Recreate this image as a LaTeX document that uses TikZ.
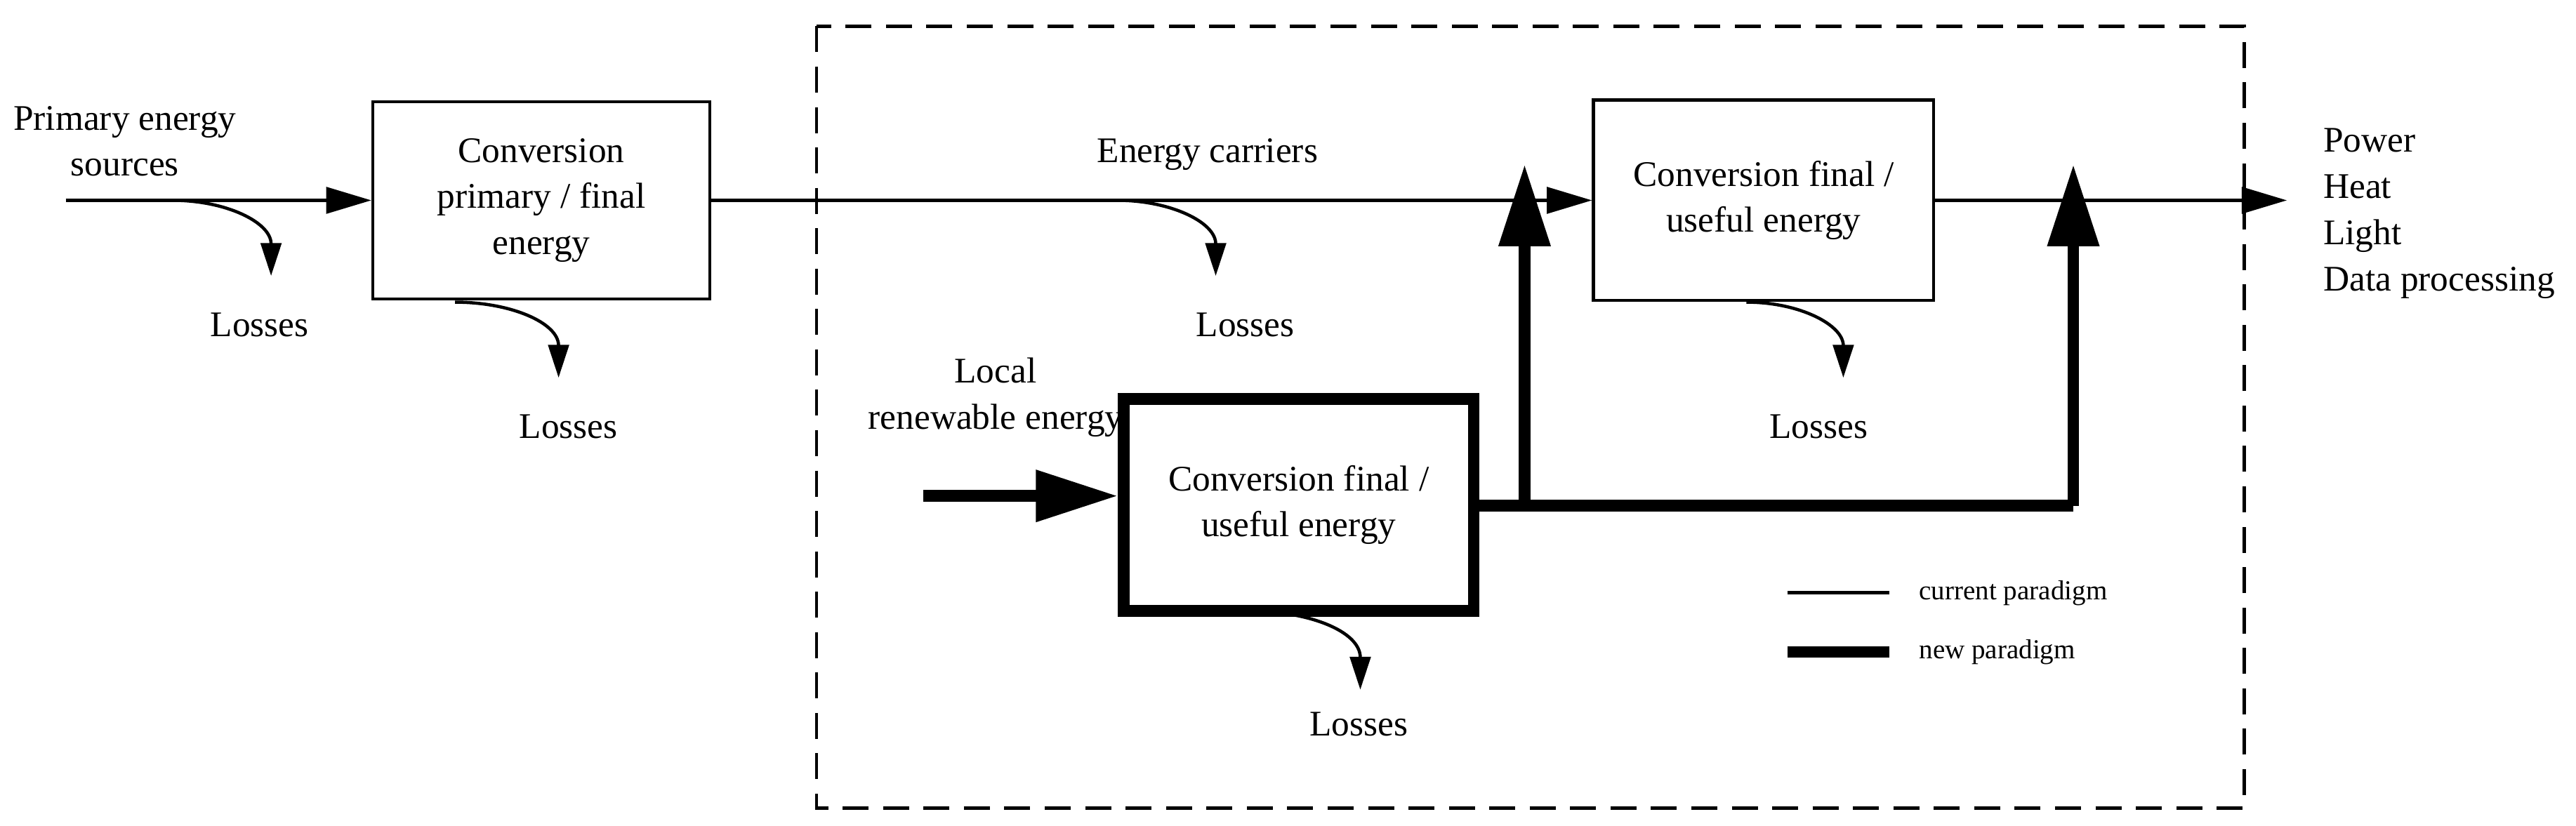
\documentclass[tikz,border=0pt]{standalone}
\usepackage{fontspec}
\setmainfont{Liberation Serif}
\usetikzlibrary{arrows.meta}
\begin{document}
\begin{tikzpicture}[x=0.02cm,y=-0.02cm,
  thin line/.style={line width=1.1pt},
  thick line/.style={line width=4pt},
  flow/.style={thin line,-{Triangle[length=0.55cm,width=0.32cm]}},
  bigflow/.style={thick line,-{Triangle[length=1cm,width=0.6cm]}},
  loss/.style={thin line,-{Triangle[length=0.4cm,width=0.25cm]}},
  box/.style={draw,thin line,align=center,font=\fontsize{12.5}{16}\selectfont},
  txt/.style={font=\fontsize{12.5}{16}\selectfont},
  leg/.style={font=\fontsize{9.5}{11}\selectfont,anchor=west}]
\useasboundingbox (0,0) rectangle (1568,503);
\draw[thin line,dash pattern=on 9pt off 5pt] (497,16) rectangle (1366,492);
% boxes
\node[box,minimum width=205*0.02cm,minimum height=120*0.02cm] (b1) at (329.5,122) {Conversion\\primary / final\\energy};
\node[box,minimum width=207*0.02cm,minimum height=122*0.02cm] (b2) at (1073.5,122) {Conversion final /\\useful energy};
\node[box,thick line,minimum width=213*0.02cm,minimum height=129*0.02cm] (b3) at (790.5,307.5) {Conversion final /\\useful energy};
% coordinates
\coordinate (in) at (40,122);
\coordinate (out) at (1392,122);
\coordinate (loc) at (562,302);
\coordinate (j1) at (928,308);
\coordinate (j2) at (1262,308);
\coordinate (t1) at (928,100);
\coordinate (t2) at (1262,100);
% thin flows
\draw[flow] (in) -- (b1.west);
\draw[flow] (b1.east) -- (b2.west);
\draw[flow] (b2.east) -- (out);
% thick flows
\draw[bigflow] (loc) -- (b3.west |- loc);
\draw[thick line] (b3.east |- j1) -- (j2);
\draw[bigflow] (j1) -- (t1);
\draw[bigflow] (j2) -- (t2);
% losses
\coordinate (l1) at (105,122); \coordinate (l1e) at (165,168);
\coordinate (l2) at (277,184); \coordinate (l2e) at (340,230);
\coordinate (l3) at (680,122); \coordinate (l3e) at (740,168);
\coordinate (l4) at (1063,184); \coordinate (l4e) at (1122,230);
\coordinate (l5) at (760,372); \coordinate (l5e) at (828,420);
\foreach \a/\b in {l1/l1e,l2/l2e,l3/l3e,l4/l4e,l5/l5e}
  \draw[loss] (\a) to[out=0,in=90,looseness=1.1] (\b);
\node[txt] (t_l1) at (158,198) {Losses};
\node[txt] (t_l2) at (346,260) {Losses};
\node[txt] (t_l3) at (758,198) {Losses};
\node[txt] (t_l4) at (1107,260) {Losses};
\node[txt] (t_l5) at (827,441) {Losses};
% labels
\node[txt,align=center] (pes) at (76,86) {Primary energy\\sources};
\node[txt] (ec) at (735,94) {Energy carriers};
\node[txt,align=center,inner sep=0pt] (lre) at (606,242) {Local\\renewable energy};
\node[txt,align=left,anchor=west] (outs) at (1408,130) {Power\\Heat\\Light\\Data processing};
% legend
\coordinate (g1) at (1088,361); \coordinate (g2) at (1150,361);
\coordinate (g3) at (1088,397); \coordinate (g4) at (1150,397);
\draw[thin line] (g1) -- (g2);
\draw[thick line] (g3) -- (g4);
\node[leg] (lc) at (1162,361) {current paradigm};
\node[leg] (ln) at (1162,397) {new paradigm};
\end{tikzpicture}
\end{document}
